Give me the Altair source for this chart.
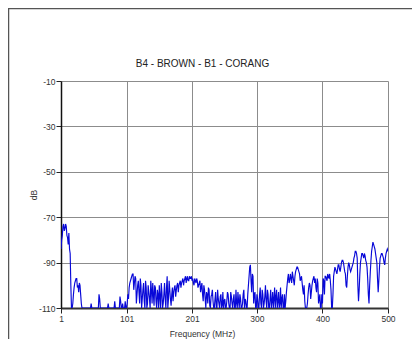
import altair as alt
import pandas as pd

# Measured levels (dB) on the odd sweep frequencies 1, 3, ..., 499
odd_1_49 = [-84, -78, -73, -75, -74, -79, -77, -86, -110, -108, -101, -98, -97,
            -100, -99, -104, -110, -110, -110, -110, -110, -110, -110, -108, -110]
odd_51_99 = [-110, -110, -110, -110, -104, -110, -110, -110, -110, -110, -110, -108, -110,
             -110, -110, -110, -107, -110, -110, -110, -105, -110, -108, -110, -107]
odd_101_149 = [-110, -104, -101, -98, -96, -95, -99, -97, -104, -98, -108, -100, -106,
               -99, -110, -101, -108, -103, -110, -102, -99, -109, -101, -110, -104]
odd_151_199 = [-100, -110, -103, -108, -99, -110, -96, -106, -102, -109, -101, -103, -100,
               -102, -99, -100, -98, -99, -97, -98, -96, -97, -98, -96, -97]
odd_201_249 = [-98, -99, -97, -99, -98, -100, -98, -101, -104, -100, -106, -103, -108,
               -102, -110, -104, -107, -110, -103, -110, -106, -110, -104, -109, -110]
odd_251_299 = [-106, -110, -103, -108, -110, -105, -110, -104, -110, -108, -103, -110, -106,
               -110, -104, -110, -107, -110, -100, -92, -98, -95, -108, -103, -110]
odd_301_349 = [-106, -110, -101, -110, -104, -108, -100, -110, -104, -110, -102, -107, -110,
               -101, -105, -110, -103, -108, -110, -104, -110, -110, -103, -97, -99]
odd_351_399 = [-95, -99, -96, -100, -94, -92, -93, -95, -97, -99, -104, -107, -110,
               -108, -101, -100, -103, -98, -96, -97, -103, -99, -106, -110, -104]
odd_401_449 = [-97, -104, -96, -98, -96, -95, -102, -110, -96, -92, -94, -93, -91,
               -94, -90, -89, -92, -95, -101, -92, -91, -94, -92, -90, -87]
odd_451_499 = [-85, -88, -107, -95, -88, -86, -88, -87, -90, -97, -108, -94, -85,
               -81, -83, -86, -90, -103, -92, -87, -86, -88, -91, -86, -84]

# Measured levels (dB) on the even sweep frequencies 2, 4, ..., 500
even_2_50 = [-80, -74, -76, -73, -78, -82, -84, -100, -110, -104, -99, -97, -101,
             -103, -100, -108, -110, -110, -110, -110, -110, -110, -110, -110, -110]
even_52_100 = [-110, -110, -110, -110, -106, -110, -110, -110, -110, -110, -110, -110, -110,
               -110, -110, -110, -110, -110, -110, -110, -107, -110, -110, -110, -110]
even_102_150 = [-108, -106, -99, -97, -95, -102, -96, -108, -100, -103, -97, -110, -102,
                -107, -98, -110, -100, -106, -98, -108, -104, -100, -107, -102, -110]
even_152_200 = [-105, -99, -110, -104, -106, -101, -110, -98, -106, -104, -107, -101, -105,
                -100, -103, -99, -101, -98, -100, -97, -99, -96, -98, -97, -96]
even_202_250 = [-97, -100, -98, -97, -101, -99, -103, -99, -107, -102, -110, -104, -101,
                -109, -105, -102, -110, -106, -110, -102, -108, -105, -110, -103, -107]
even_252_300 = [-110, -107, -104, -110, -103, -108, -106, -110, -102, -110, -107, -104, -110,
                -108, -102, -106, -110, -104, -96, -91, -103, -96, -104, -110, -104]
even_302_350 = [-110, -104, -108, -102, -110, -105, -107, -102, -110, -106, -110, -103, -106,
                -110, -102, -107, -110, -101, -106, -110, -104, -107, -100, -95, -98]
even_352_400 = [-97, -94, -98, -96, -93, -92, -94, -98, -96, -102, -100, -110, -110,
                -104, -99, -106, -100, -97, -99, -101, -97, -108, -104, -110, -108]
even_402_450 = [-98, -96, -97, -95, -97, -98, -110, -104, -94, -93, -95, -91, -93,
                -92, -89, -90, -94, -100, -96, -90, -93, -93, -91, -88, -85]
even_452_500 = [-86, -100, -102, -90, -86, -87, -86, -89, -92, -104, -100, -89, -83,
                -82, -84, -88, -97, -98, -88, -86, -87, -90, -88, -85, -85]

odd_levels = (odd_1_49 + odd_51_99 + odd_101_149 + odd_151_199 + odd_201_249 +
              odd_251_299 + odd_301_349 + odd_351_399 + odd_401_449 + odd_451_499)
even_levels = (even_2_50 + even_52_100 + even_102_150 + even_152_200 + even_202_250 +
               even_252_300 + even_302_350 + even_352_400 + even_402_450 + even_452_500)

x_ticks = [1, 101, 201, 300, 400, 500]
y_ticks = [-10, -30, -50, -70, -90, -110]

freqs, levels = [], []
for i in range(len(odd_levels)):
    freqs += [2 * i + 1, 2 * i + 2]
    levels += [odd_levels[i], even_levels[i]]

df = pd.DataFrame({"f": freqs, "db": levels})

FONT = "Liberation Sans"

line = alt.Chart(df).mark_line(color="#0808d8", strokeWidth=1.15, clip=True).encode(
    x=alt.X("f:Q", scale=alt.Scale(domain=[1, 500], nice=False, zero=False),
            axis=alt.Axis(values=x_ticks, title="Frequency (MHz)", grid=True,
                          gridColor="#8c8c8c", gridWidth=1, gridOpacity=1,
                          domainColor="#333333", domainWidth=2,
                          tickColor="#222222", tickSize=5, tickWidth=1,
                          labelFont=FONT, labelFontSize=8.5, labelColor="#333333",
                          labelPadding=1, labelFlush=False,
                          labelExpr="'' + datum.value",
                          titleFont=FONT, titleFontSize=8.5, titleFontWeight="normal",
                          titleColor="#333333", titleX=141, titleY=25,
                          titleBaseline="middle", titleAlign="center")),
    y=alt.Y("db:Q", scale=alt.Scale(domain=[-110, -10], nice=False, zero=False),
            axis=alt.Axis(values=y_ticks, title="dB", grid=True,
                          gridColor="#8c8c8c", gridWidth=1, gridOpacity=1,
                          domainColor="#111111", domainWidth=1.5,
                          tickColor="#222222", tickSize=5, tickWidth=1,
                          labelFont=FONT, labelFontSize=8.5, labelColor="#333333",
                          labelPadding=1, labelFlush=False,
                          labelExpr="'' + datum.value",
                          titleFont=FONT, titleFontSize=8.5, titleFontWeight="normal",
                          titleColor="#333333", titleX=-28, titleY=113.5,
                          titleAngle=270, titleBaseline="middle", titleAlign="center")),
)

frame = alt.Chart(pd.DataFrame({"k": [0]})).mark_rect(
    filled=False, stroke="#555555", strokeWidth=1.5
).encode(
    x=alt.value(-52.5), x2=alt.value(400), y=alt.value(-72.5), y2=alt.value(300)
)

chart = alt.layer(frame, line).properties(
    width=327, height=227,
    padding={"left": 53, "top": 73, "right": 24, "bottom": 31},
    autosize=alt.AutoSizeParams(type="none"),
    title=alt.TitleParams(text="B4 - BROWN - B1 - CORANG", font=FONT, fontSize=10,
                          fontWeight="normal", color="#222222", anchor="middle",
                          dx=-22, dy=67, offset=6),
    background="white",
).configure_view(stroke=None)

chart.save("out.html", embed_options={"renderer": "svg", "actions": False})
